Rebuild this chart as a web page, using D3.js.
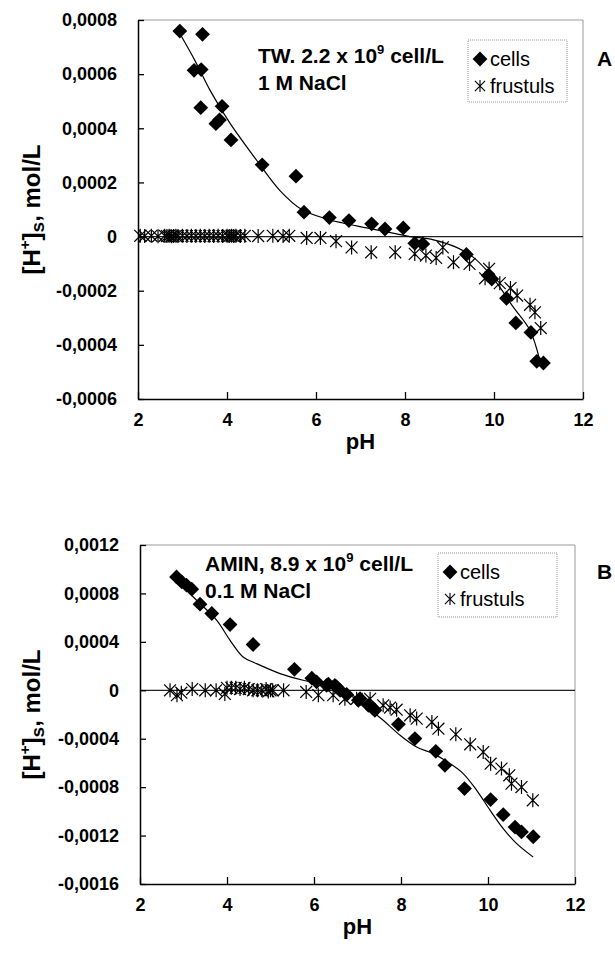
<!DOCTYPE html>
<html><head><meta charset="utf-8">
<script src="https://cdn.jsdelivr.net/npm/d3@7"></script>
<style>
body{margin:0;background:#fff;}
svg{display:block;font-family:"Liberation Sans",Arial,sans-serif;}
</style></head>
<body>
<svg id="c" width="615" height="959"></svg>
<script>
// ---------- DATA ----------
const xTicks = [2,4,6,8,10,12];
const yTicksA = [-0.0006,-0.0004,-0.0002,0,0.0002,0.0004,0.0006,0.0008];
const yTicksB = [-0.0016,-0.0012,-0.0008,-0.0004,0,0.0004,0.0008,0.0012];

// Panel A: cells [pH, value]
const cellsA = [[2.94,0.000759],[3.45,0.000747],[3.26,0.000614],[3.42,0.000617],[3.41,0.000476],
 [3.89,0.000481],[3.75,0.000417],[3.83,0.000431],[4.09,0.000357],[4.79,0.000265],[5.55,0.000223],
 [5.73,0.00009],[6.30,0.00007],[6.74,0.000059],[7.25,0.000047],[7.55,0.000028],[7.96,0.000032],
 [8.22,-0.000025],[8.40,-0.000027],[9.38,-0.000066],[9.87,-0.000144],[9.95,-0.000157],
 [10.28,-0.000228],[10.49,-0.000319],[10.83,-0.000354],[10.96,-0.000461],[11.11,-0.000467]];
const frustA = [[2.05,0.000003],[2.15,0.000002],[2.3,0.000003],[2.45,0.000001],[2.6,0.000003],[2.65,0.000002],
 [2.7,0.000003],[2.75,0.000001],[2.8,0.000002],[2.85,0.000003],[2.9,0.000002],[3.0,0.000003],[3.1,0.000002],
 [3.2,0.000003],[3.3,0.000002],[3.4,0.000003],[3.5,0.000002],[3.6,0.000003],[3.7,0.000002],[3.8,0.000003],
 [3.9,0.000002],[4.0,0.000003],[4.05,0.000002],[4.1,0.000003],[4.15,0.000002],[4.2,0.000003],[4.3,0.000002],
 [4.4,0.000003],[4.7,0.000002],[5.03,0.000003],[5.26,0.000002],[5.4,0.000003],[5.79,-0.000005],
 [6.10,-0.000005],[6.45,-0.000017],[6.80,-0.00004],[7.24,-0.000058],[7.78,-0.000058],[8.22,-0.000064],
 [8.47,-0.00007],[8.70,-0.000079],[8.85,-0.00004],[9.09,-0.000095],[9.45,-0.000101],[9.80,-0.000154],
 [9.89,-0.000119],[10.13,-0.000172],[10.37,-0.00019],[10.52,-0.000218],[10.81,-0.000252],
 [10.92,-0.00028],[11.05,-0.000338]];
const fitA = [[2.94,0.00075],[3.28,0.00065],[3.62,0.00054],[4.07,0.000418],[4.67,0.000281],[5.19,0.00017],
 [5.68,0.0001],[6.24,0.000065],[6.6,0.00005],[7.14,0.000032],[7.81,0.00001],[8.11,0.0],[8.64,-0.000012],
 [9.16,-0.00004],[9.53,-0.000076],[9.84,-0.000126],[10.13,-0.000187],[10.43,-0.00026],[10.81,-0.000347],
 [11.03,-0.000458]];

// Panel B
const cellsB = [[2.84,0.000936],[2.96,0.000895],[3.07,0.000868],[3.19,0.000835],[3.38,0.000711],
 [3.65,0.000634],[4.07,0.000543],[4.60,0.000378],[5.55,0.000173],[5.95,0.000100],[6.06,0.000069],
 [6.29,0.000041],[6.33,0.00005],[6.48,0.000041],[6.52,0.000027],[6.60,0.0],[6.75,-0.000035],
 [7.02,-0.000083],[7.06,-0.000069],[7.25,-0.000124],[7.36,-0.000151],[7.40,-0.000165],
 [7.94,-0.000281],[8.32,-0.000399],[8.80,-0.000504],[9.01,-0.00062],[9.46,-0.000812],
 [10.06,-0.000903],[10.35,-0.001027],[10.62,-0.00113],[10.77,-0.00117],[11.04,-0.00121]];
const frustB = [[2.69,0.0],[2.85,-0.00004],[2.95,-0.00002],[3.2,0.00001],[3.5,0.0],[3.75,0.0],
 [3.95,-0.00003],[4.0,0.00002],[4.1,0.00002],[4.2,0.00002],[4.3,0.00001],[4.4,0.00002],[4.5,0.00001],
 [4.6,0.0],[4.7,0.0],[4.8,0.0],[4.9,0.00001],[4.95,-0.00001],[5.0,0.0],[5.05,0.0],[5.3,0.0],
 [5.82,-0.000014],[6.10,-0.00004],[6.44,-0.00004],[6.71,-0.00007],[6.98,-0.00007],[7.29,-0.00007],
 [7.59,-0.000124],[7.75,-0.000143],[7.90,-0.00016],[8.21,-0.000207],[8.36,-0.000234],[8.71,-0.000262],
 [8.86,-0.000317],[9.26,-0.000364],[9.59,-0.000446],[9.89,-0.00051],[10.06,-0.000606],[10.31,-0.000647],
 [10.49,-0.000702],[10.54,-0.000771],[10.77,-0.000799],[11.03,-0.000909]];
const fitB = [[2.73,0.00095],[3.30,0.000744],[3.76,0.00058],[4.07,0.000413],[4.37,0.000275],[4.68,0.00022],
 [5.22,0.000138],[5.75,0.000083],[6.37,0.000041],[6.75,-0.000014],[6.83,-0.00004],[7.21,-0.000138],
 [7.59,-0.000248],[7.98,-0.000372],[8.36,-0.000469],[8.74,-0.000523],[9.13,-0.000606],[9.43,-0.000688],
 [9.74,-0.000826],[10.05,-0.000992],[10.35,-0.001143],[10.66,-0.001267],[11.04,-0.001378]];

const panels = [
 {letter:"A", title1:"TW. 2.2 x 10", title2:"1 M NaCl", cells:cellsA, frust:frustA, fit:fitA, yTicks:yTicksA,
  yDom:[-0.0006,0.0008], L:138, R:583, T:20, B:399, tx:258, ty:63, lg:{x:468,y:40,w:99,h:62}},
 {letter:"B", title1:"AMIN, 8.9 x 10", title2:"0.1 M NaCl", cells:cellsB, frust:frustB, fit:fitB, yTicks:yTicksB,
  yDom:[-0.0016,0.0012], L:140, R:575, T:545, B:884, tx:205, ty:571, lg:{x:438,y:553,w:119,h:64}}
];

const svg = d3.select("#c");
const fmt = v => v===0 ? "0" : (v<0?"-":"") + Math.abs(v).toFixed(4).replace(".", ",");
const diamond = d3.symbol().type(d3.symbolDiamond2 || d3.symbolDiamond).size(140);
function starPath(r){ const d=r*0.85; return `M0,${-r}L0,${r}M${-d},${-d}L${d},${d}M${-d},${d}L${d},${-d}`; }

panels.forEach(p=>{
  const x = d3.scaleLinear().domain([2,12]).range([p.L,p.R]);
  const y = d3.scaleLinear().domain(p.yDom).range([p.B,p.T]);
  const g = svg.append("g");
  g.append("path").attr("d",`M${p.L},${p.T}H${p.R}V${p.B}`).attr("fill","none").attr("stroke","#9a9a9a").attr("stroke-width",1);
  g.append("line").attr("x1",p.L).attr("x2",p.R).attr("y1",y(0)).attr("y2",y(0)).attr("stroke","#222").attr("stroke-width",1.3);
  const ya = g.append("g").attr("transform",`translate(${p.L},0)`)
    .call(d3.axisLeft(y).tickValues(p.yTicks).tickFormat(fmt).tickSizeInner(-6).tickSizeOuter(0).tickPadding(21));
  const xa = g.append("g").attr("transform",`translate(0,${p.B})`)
    .call(d3.axisBottom(x).tickValues(xTicks).tickFormat(d3.format("d")).tickSizeInner(-7).tickSizeOuter(0).tickPadding(14));
  [ya,xa].forEach(a=>{
    a.select(".domain").attr("stroke","#000").attr("stroke-width",1.5);
    a.selectAll(".tick line").attr("stroke","#000").attr("stroke-width",1.3);
    a.selectAll("text").attr("font-family","Liberation Sans, Arial, sans-serif").attr("font-size",18).attr("font-weight","bold").attr("fill","#000");
  });
  g.append("path").datum(p.fit).attr("fill","none").attr("stroke","#000").attr("stroke-width",1.2)
    .attr("d", d3.line().x(d=>x(d[0])).y(d=>y(d[1])).curve(d3.curveCatmullRom.alpha(0.5)));
  g.selectAll(".fr").data(p.frust).enter().append("path").attr("class","fr")
    .attr("transform",d=>`translate(${x(d[0])},${y(d[1])})`).attr("d",starPath(7))
    .attr("stroke","#000").attr("stroke-width",1.2).attr("fill","none");
  g.selectAll(".ce").data(p.cells).enter().append("path").attr("class","ce")
    .attr("transform",d=>`translate(${x(d[0])},${y(d[1])})`).attr("d",diamond).attr("fill","#000");
  const t = g.append("text").attr("x",p.tx).attr("y",p.ty).attr("font-size",21).attr("font-weight","bold");
  t.append("tspan").text(p.title1);
  t.append("tspan").attr("dy",-9).attr("font-size",13).text("9");
  t.append("tspan").attr("dy",9).text(" cell/L");
  g.append("text").attr("x",p.tx).attr("y",p.ty+27).attr("font-size",21).attr("font-weight","bold").text(p.title2);
  const lg = p.lg;
  g.append("rect").attr("x",lg.x).attr("y",lg.y).attr("width",lg.w).attr("height",lg.h)
    .attr("fill","#fff").attr("stroke","#999").attr("stroke-width",1).attr("stroke-dasharray","1,1");
  g.append("path").attr("transform",`translate(${lg.x+12},${lg.y+19})`).attr("d",diamond).attr("fill","#000");
  g.append("text").attr("x",lg.x+22).attr("y",lg.y+26).attr("font-size",20).text("cells");
  g.append("path").attr("transform",`translate(${lg.x+12},${lg.y+46})`).attr("d",starPath(6))
    .attr("stroke","#000").attr("stroke-width",1.1).attr("fill","none");
  g.append("text").attr("x",lg.x+22).attr("y",lg.y+53).attr("font-size",20).text("frustuls");
  g.append("text").attr("x",597).attr("y",lg.y+26).attr("font-size",21).attr("font-weight","bold").text(p.letter);
  g.append("text").attr("x",(p.L+p.R)/2).attr("y",p.B+50).attr("text-anchor","middle")
    .attr("font-size",22).attr("font-weight","bold").text("pH");
  const yt = g.append("text").attr("transform",`translate(40,${(p.T+p.B)/2}) rotate(-90)`)
    .attr("text-anchor","middle").attr("font-size",24).attr("font-weight","bold");
  yt.append("tspan").text("[H");
  yt.append("tspan").attr("dy",-10).attr("font-size",15).text("+");
  yt.append("tspan").attr("dy",10).text("]");
  yt.append("tspan").attr("dy",4).attr("font-size",19).text("s");
  yt.append("tspan").attr("dy",-4).text(", mol/L");
});
</script>
</body></html>
